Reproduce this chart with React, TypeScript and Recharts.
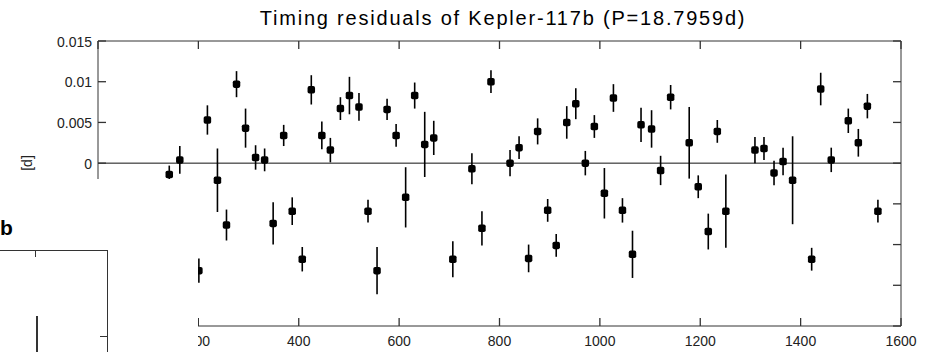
import {
  ScatterChart,
  Scatter,
  XAxis,
  YAxis,
  ErrorBar,
  ReferenceLine,
} from 'recharts'

// transit times [d]
const epochs = [
  142, 163, 201, 218, 238, 256, 276, 294, 314, 332, 349, 370, 387, 407, 425, 446, 463,
  483, 501, 520, 538, 556, 576, 594, 613, 631, 651, 669, 707, 745, 765, 783, 821, 839,
  858, 876, 896, 913, 934, 952, 971, 989, 1009, 1027, 1045, 1065, 1082, 1103, 1121,
  1141, 1178, 1196, 1216, 1234, 1251, 1309, 1327, 1347, 1365, 1384, 1422, 1440, 1461,
  1495, 1515, 1533, 1554,
]

// O-C residuals [d]
const residuals = [
  -0.0014, 0.0004, -0.0132, 0.0053, -0.0021, -0.0076, 0.0097, 0.0043, 0.0007, 0.0004,
  -0.0074, 0.0034, -0.0059, -0.0118, 0.009, 0.0034, 0.0016, 0.0067, 0.0083, 0.0069,
  -0.0059, -0.0132, 0.0066, 0.0034, -0.0042, 0.0083, 0.0023, 0.0031, -0.0118, -0.0007,
  -0.008, 0.01, 0.0, 0.0019, -0.0117, 0.0039, -0.0058, -0.0101, 0.005, 0.0073, 0.0,
  0.0045, -0.0037, 0.008, -0.0058, -0.0112, 0.0047, 0.0042, -0.0009, 0.0081, 0.0025,
  -0.0029, -0.0084, 0.0039, -0.0059, 0.0016, 0.0018, -0.0012, 0.0002, -0.0021, -0.0118,
  0.0091, 0.0004, 0.0052, 0.0025, 0.007, -0.0059,
]

// 1-sigma errors [d]
const errors = [
  0.0011, 0.0017, 0.0015, 0.0018, 0.0039, 0.0019, 0.0016, 0.0024, 0.0015, 0.0014,
  0.0026, 0.0013, 0.0017, 0.0015, 0.0018, 0.0017, 0.0015, 0.0014, 0.0023, 0.0017,
  0.0014, 0.0029, 0.0013, 0.0014, 0.0037, 0.0016, 0.004, 0.0021, 0.0022, 0.0019,
  0.0021, 0.0014, 0.0016, 0.0014, 0.0017, 0.0016, 0.0014, 0.0014, 0.002, 0.0019,
  0.0015, 0.0014, 0.0031, 0.0017, 0.0015, 0.0029, 0.0021, 0.0023, 0.0018, 0.0015,
  0.0044, 0.0014, 0.0022, 0.0014, 0.0045, 0.0016, 0.0014, 0.0015, 0.0017, 0.0054,
  0.0014, 0.002, 0.0015, 0.0015, 0.0017, 0.0015, 0.0014,
]

const xTicks = [0, 200, 400, 600, 800, 1000, 1200, 1400, 1600]
const yTicks = [-0.02, -0.015, -0.01, -0.005, 0, 0.005, 0.01, 0.015]

const points = epochs.map((t, i) => ({ t, oc: residuals[i], err: errors[i] }))

const FONT = '"Liberation Sans", Arial, Helvetica, sans-serif'
const AXIS = '#333'
const TICK_LEN = 8

// MATLAB style ticks: short marks pointing into the plot box
function LeftTick({ x, y, payload }: any) {
  return (
    <g>
      <line x1={x + 6} y1={y} x2={x + 6 + TICK_LEN} y2={y} stroke={AXIS} strokeWidth={1.3} />
      <text x={x} y={y} dy="0.4em" textAnchor="end" fontSize={14} fill="#222" fontFamily={FONT}>
        {String(payload.value)}
      </text>
    </g>
  )
}

function BottomTick({ x, y, payload }: any) {
  return (
    <g>
      <line x1={x} y1={y - 9} x2={x} y2={y - 9 - TICK_LEN} stroke={AXIS} strokeWidth={1.3} />
      <text x={x} y={y} dy="0.75em" textAnchor="middle" fontSize={14} fill="#222" fontFamily={FONT}>
        {payload.value}
      </text>
    </g>
  )
}

function TopTick({ x, y }: any) {
  return <line x1={x} y1={y} x2={x} y2={y + TICK_LEN} stroke={AXIS} strokeWidth={1.3} />
}

function RightTick({ x, y }: any) {
  return <line x1={x} y1={y} x2={x - TICK_LEN} y2={y} stroke={AXIS} strokeWidth={1.3} />
}

function Marker(props: any) {
  const { cx, cy } = props
  return <rect x={cx - 3.75} y={cy - 3.75} width={7.5} height={7.5} rx={1.8} fill="#000" />
}

const Nothing = () => <g />

export default function App() {
  return (
    <div
      style={{
        position: 'absolute',
        left: 0,
        top: 0,
        width: 926,
        height: 352,
        background: '#fff',
        overflow: 'hidden',
        fontFamily: FONT,
      }}
    >
      <div
        style={{
          position: 'absolute',
          left: 0,
          top: 7,
          width: 1006,
          textAlign: 'center',
          fontSize: 20,
          letterSpacing: 1.8,
          color: '#000',
          whiteSpace: 'nowrap',
        }}
      >
        Timing residuals of Kepler-117b (P=18.7959d)
      </div>
      <div
        style={{
          position: 'absolute',
          left: 27,
          top: 163,
          transform: 'translate(-50%, -50%) rotate(-90deg)',
          fontSize: 14,
          color: '#222',
          whiteSpace: 'nowrap',
        }}
      >
        [d]
      </div>

      <ScatterChart width={926} height={352} margin={{ top: 0, right: 0, bottom: 0, left: 0 }}>
        <XAxis
          xAxisId="bottom"
          dataKey="t"
          type="number"
          domain={[0, 1600]}
          ticks={xTicks}
          height={26}
          stroke={AXIS}
          tickLine={false}
          tickSize={0}
          tickMargin={9}
          tick={<BottomTick />}
          interval={0}
        />
        <XAxis
          xAxisId="top"
          dataKey="t"
          orientation="top"
          type="number"
          domain={[0, 1600]}
          ticks={xTicks}
          height={41}
          stroke={AXIS}
          tickLine={false}
          tickSize={0}
          tickMargin={0}
          tick={<TopTick />}
          interval={0}
        />
        <YAxis
          yAxisId="left"
          dataKey="oc"
          type="number"
          domain={[-0.02, 0.015]}
          ticks={yTicks}
          width={98}
          stroke={AXIS}
          tickLine={false}
          tickSize={0}
          tickMargin={6}
          tick={<LeftTick />}
          interval={0}
        />
        <YAxis
          yAxisId="right"
          dataKey="oc"
          orientation="right"
          type="number"
          domain={[-0.02, 0.015]}
          ticks={yTicks}
          width={25}
          stroke={AXIS}
          tickLine={false}
          tickSize={0}
          tickMargin={0}
          tick={<RightTick />}
          interval={0}
        />
        <ReferenceLine xAxisId="bottom" yAxisId="left" y={0} stroke="#111" strokeWidth={1} />
        {/* invisible copy so the mirrored top/right axes get a scale */}
        <Scatter
          xAxisId="top"
          yAxisId="right"
          data={points}
          shape={Nothing}
          legendType="none"
          isAnimationActive={false}
        />
        <Scatter
          xAxisId="bottom"
          yAxisId="left"
          data={points}
          shape={Marker}
          isAnimationActive={false}
        >
          <ErrorBar
            dataKey="err"
            direction="y"
            width={0}
            stroke="#000"
            strokeWidth={1.6}
            isAnimationActive={false}
          />
        </Scatter>
      </ScatterChart>

      {/* neighbouring panel "b" laid over the lower left corner */}
      <div
        style={{
          position: 'absolute',
          left: 0,
          top: 179,
          width: 198,
          height: 173,
          background: '#fff',
        }}
      >
        <svg width={198} height={173} style={{ display: 'block' }}>
          <text x={0} y={56} fontSize={21} fontWeight="bold" fontFamily={FONT} fill="#000">
            b
          </text>
          <g stroke={AXIS} strokeWidth={1} fill="none">
            <line x1={0} y1={71.5} x2={108} y2={71.5} />
            <line x1={107.5} y1={71} x2={107.5} y2={173} />
            <line x1={35.5} y1={71} x2={35.5} y2={78} />
            <line x1={100} y1={157.5} x2={108} y2={157.5} />
          </g>
          <line x1={37} y1={137} x2={37} y2={173} stroke="#000" strokeWidth={1.6} />
        </svg>
      </div>
    </div>
  )
}
